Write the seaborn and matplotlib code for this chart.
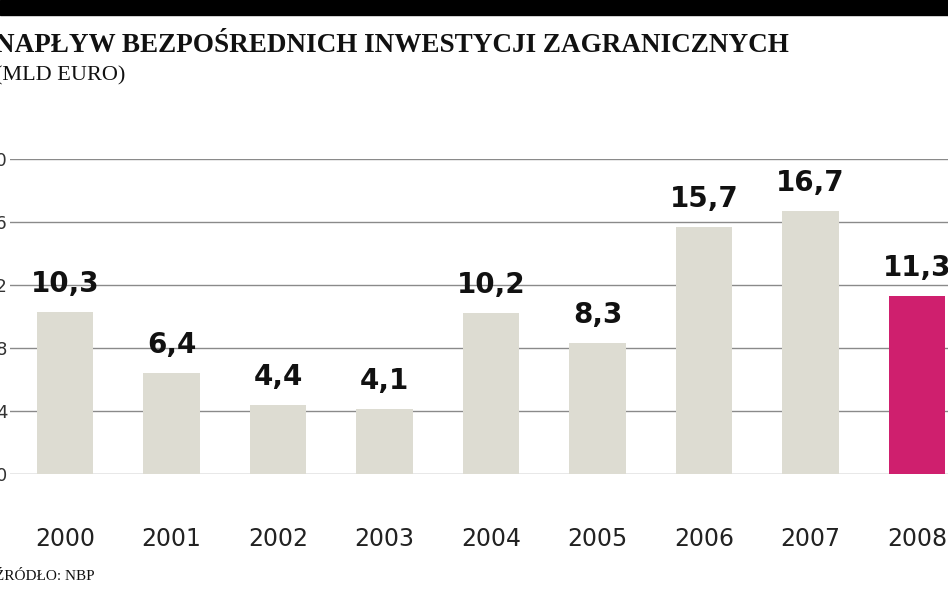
import matplotlib
matplotlib.use("Agg")
import matplotlib.pyplot as plt
import seaborn as sns
import pandas as pd

years = ["2000","2001","2002","2003","2004","2005","2006","2007","2008"]
values = [10.3, 6.4, 4.4, 4.1, 10.2, 8.3, 15.7, 16.7, 11.3]
labels = ["10,3","6,4","4,4","4,1","10,2","8,3","15,7","16,7","11,3"]
yticks = [0, 4, 8, 12, 16, 20]
colors = ["#dddcd2"]*8 + ["#cf1f6e"]

df = pd.DataFrame({"year": years, "value": values})
fig = plt.figure(figsize=(9.48, 5.93), dpi=100)
ax = fig.add_axes([10/948, (593-474)/593, 938/948, (474-159)/593])
sns.barplot(data=df, x="year", y="value", hue="year", palette=colors, legend=False,
            width=0.53, saturation=1, ax=ax, zorder=3)
ax.set_xlim(-0.516, 8.29)
ax.set_ylim(0, 20)
ax.set_yticks(yticks)
ax.set_yticklabels([str(t) for t in yticks], fontsize=13, color="#333")
ax.yaxis.grid(True, color="#8a8a8a", lw=1, zorder=0)
ax.set_axisbelow(True)
for s in ax.spines.values():
    s.set_visible(False)
ax.tick_params(length=0)
ax.tick_params(axis="x", pad=38, labelsize=17, colors="#222")
ax.tick_params(axis="y", pad=2)
ax.set_xlabel(""); ax.set_ylabel("")
for i, (v, l) in enumerate(zip(values, labels)):
    ax.text(i, v + 0.9, l, ha="center", va="bottom", fontsize=20, fontweight="bold",
            family="Liberation Sans Narrow", color="#111")
fig.patches.append(plt.Rectangle((0, 1-15/593), 1, 15/593, transform=fig.transFigure,
                                 color="black"))
fig.text(-0.005, 1-45/593, "NAPŁYW BEZPOŚREDNICH INWESTYCJI ZAGRANICZNYCH", fontsize=19.5,
         fontweight="bold", family="Liberation Serif", va="center", color="#111")
fig.text(-0.005, 1-76/593, "(MLD EURO)", fontsize=16, family="Liberation Serif",
         va="center", color="#111")
fig.text(-0.005, 1-577/593, "ŹRÓDŁO: NBP", fontsize=11, family="Liberation Serif",
         va="center", color="#111")
fig.savefig("out.png", dpi=100)
